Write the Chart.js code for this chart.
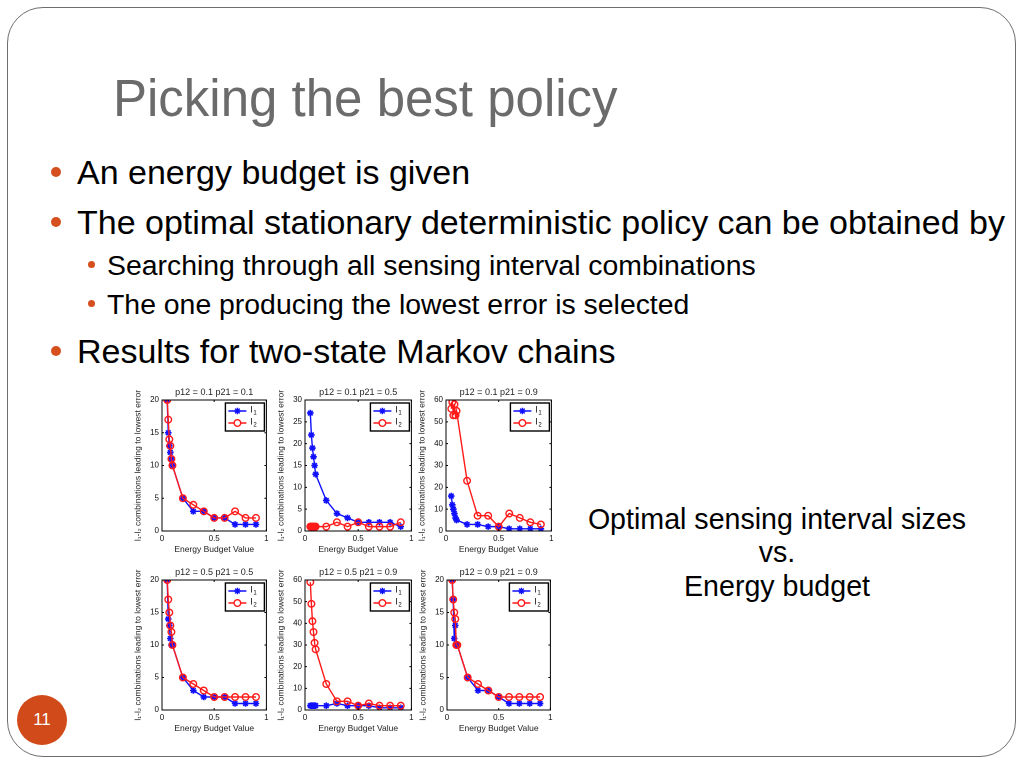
<!DOCTYPE html>
<html>
<head>
<meta charset="utf-8">
<script src="https://cdn.jsdelivr.net/npm/chart.js@4"></script>
<style>
html,body{margin:0;padding:0;background:#fff;}
body{width:1024px;height:768px;position:relative;overflow:hidden;font-family:"Liberation Sans",Arial,sans-serif;}
.frame{position:absolute;left:7px;top:7px;width:1009px;height:750px;border:1px solid #6e6e6e;border-radius:36px;box-sizing:border-box;}
.t{position:absolute;white-space:nowrap;line-height:1;}
.title{left:113px;top:73px;font-size:51px;color:#6b6b6b;}
.b1{font-size:34px;color:#000;left:77px;}
.b2{font-size:28.4px;color:#000;left:107px;}
.dot{position:absolute;border-radius:50%;background:#d6501f;}
.num{position:absolute;left:17px;top:695px;width:50px;height:50px;border-radius:50%;background:#d04a1a;color:#fff;font-size:17px;text-align:center;line-height:50px;}
.rt{position:absolute;left:560px;width:434px;text-align:center;font-size:28.6px;color:#000;line-height:1;}
canvas{position:absolute;}
</style>
</head>
<body>
<div class="frame"></div>
<div class="t title">Picking the best policy</div>
<div class="dot" style="left:51px;top:167px;width:10px;height:10px;"></div>
<div class="t b1" style="top:155px;">An energy budget is given</div>
<div class="dot" style="left:51px;top:217px;width:10px;height:10px;"></div>
<div class="t b1" style="top:205px;">The optimal stationary deterministic policy can be obtained by</div>
<div class="dot" style="left:88px;top:261px;width:7px;height:7px;"></div>
<div class="t b2" style="top:251px;">Searching through all sensing interval combinations</div>
<div class="dot" style="left:88px;top:300px;width:7px;height:7px;"></div>
<div class="t b2" style="top:290px;">The one producing the lowest error is selected</div>
<div class="dot" style="left:51px;top:346px;width:10px;height:10px;"></div>
<div class="t b1" style="top:334px;">Results for two-state Markov chains</div>
<div class="rt" style="top:505px;">Optimal sensing interval sizes</div>
<div class="rt" style="top:538px;">vs.</div>
<div class="rt" style="top:572px;">Energy budget</div>
<div class="num">11</div>

<canvas id="c1"></canvas>
<canvas id="c2"></canvas>
<canvas id="c3"></canvas>
<canvas id="c4"></canvas>
<canvas id="c5"></canvas>
<canvas id="c6"></canvas>

<script>
const energyBudget = [0.05,0.06,0.07,0.08,0.09,0.1,0.2,0.3,0.4,0.5,0.6,0.7,0.8,0.9];
const xTicks = [0, 0.5, 1];

const titleA = "p12 = 0.1 p21 = 0.1";
const l1A = [20,15,13,12,11,10,5,3,3,2,2,1,1,1];
const l2A = [20,17,14,13,11,10,5,4,3,2,2,3,2,2];
const yTicksA = [0,5,10,15,20];

const titleB = "p12 = 0.1 p21 = 0.5";
const l1B = [27,22,19,17,15,13,7,4,3,2,2,2,2,1];
const l2B = [1,1,1,1,1,1,1,2,1,2,1,1,1,2];
const yTicksB = [0,5,10,15,20,25,30];

const titleC = "p12 = 0.1 p21 = 0.9";
const l1C = [16,12,10,8,6,5,3,3,2,2,1,1,1,1];
const l2C = [56,59,53,58,53,55,23,7,7,2,8,6,4,3];
const yTicksC = [0,10,20,30,40,50,60];

const titleD = "p12 = 0.5 p21 = 0.5";
const l1D = [20,14,13,11,10,10,5,3,2,2,2,1,1,1];
const l2D = [20,17,15,13,12,10,5,4,3,2,2,2,2,2];
const yTicksD = [0,5,10,15,20];

const titleE = "p12 = 0.5 p21 = 0.9";
const l1E = [2,2,2,2,2,2,2,3,2,2,2,1,1,1];
const l2E = [59,49,41,36,31,28,12,4,4,2,3,2,2,2];
const yTicksE = [0,10,20,30,40,50,60];

const titleF = "p12 = 0.9 p21 = 0.9";
const l1F = [20,17,11,13,10,10,5,3,3,2,1,1,1,1];
const l2F = [20,17,15,14,10,10,5,4,3,2,2,2,2,2];
const yTicksF = [0,5,10,15,20];

const yTitle = "l\u2081-l\u2082 combinations leading to lowest error";
const xTitle = "Energy Budget Value";

const BLUE = "#1010ff", RED = "#ff1a1a";
const YW = 30, TOPPAD = 20, XH = 24, RP = 4;
const FONT = '"Liberation Sans", Arial, sans-serif';

const matlabPlugin = {
  id: 'matlab',
  afterDraw(chart, args, opts) {
    const ctx = chart.ctx, a = chart.chartArea;
    ctx.save();
    ctx.strokeStyle = '#000'; ctx.lineWidth = 1;
    ctx.strokeRect(a.left, a.top, a.right - a.left, a.bottom - a.top);
    const xs = chart.scales.x, ys = chart.scales.y;
    ctx.beginPath();
    xs.ticks.forEach(t => {
      const px = xs.getPixelForValue(t.value);
      ctx.moveTo(px, a.bottom); ctx.lineTo(px, a.bottom - 2);
      ctx.moveTo(px, a.top); ctx.lineTo(px, a.top + 2);
    });
    ys.ticks.forEach(t => {
      const py = ys.getPixelForValue(t.value);
      ctx.moveTo(a.left, py); ctx.lineTo(a.left + 2, py);
      ctx.moveTo(a.right, py); ctx.lineTo(a.right - 2, py);
    });
    ctx.stroke();
    ctx.fillStyle = '#222';
    ctx.font = '9px ' + FONT;
    ctx.textAlign = 'center'; ctx.textBaseline = 'bottom';
    ctx.fillText(opts.title, (a.left + a.right) / 2, a.top - 3);
    const w = 39, h = 28;
    const lx = a.right - w - 2, ly = a.top + 3;
    ctx.fillStyle = '#fff';
    ctx.fillRect(lx, ly, w, h);
    ctx.lineWidth = 1.4; ctx.strokeStyle = '#000';
    ctx.strokeRect(lx, ly, w, h);
    const rows = [{c: BLUE, f: BLUE, s: 'star', sub: '1', y: ly + 8}, {c: RED, f: '#fff', s: 'circle', sub: '2', y: ly + 20}];
    rows.forEach(r => {
      ctx.strokeStyle = r.c; ctx.lineWidth = 1.4;
      ctx.beginPath(); ctx.moveTo(lx + 3, r.y); ctx.lineTo(lx + 21, r.y); ctx.stroke();
      ctx.fillStyle = r.f;
      Chart.helpers.drawPoint(ctx, {pointStyle: r.s, radius: 3.3, borderWidth: 1.4}, lx + 12, r.y);
      ctx.fillStyle = '#000';
      ctx.textAlign = 'left'; ctx.textBaseline = 'middle';
      ctx.font = '9px ' + FONT;
      ctx.fillText('l', lx + 25, r.y - 1);
      ctx.font = '6px ' + FONT;
      ctx.fillText(r.sub, lx + 28, r.y + 2);
    });
    ctx.restore();
  }
};

function makeChart(id, left, axTop, axW, axH, title, l1, l2, yTicks) {
  const cv = document.getElementById(id);
  const W = YW + axW + RP, H = TOPPAD + axH + XH;
  cv.style.left = (left - YW) + 'px';
  cv.style.top = (axTop - TOPPAD) + 'px';
  cv.style.width = W + 'px'; cv.style.height = H + 'px';
  cv.width = W; cv.height = H;
  const ymax = yTicks[yTicks.length - 1];
  new Chart(cv, {
    type: 'line',
    data: {
      datasets: [
        {label: 'l1', order: 1, data: energyBudget.map((x, i) => ({x, y: l1[i]})), borderColor: BLUE, backgroundColor: BLUE,
         pointStyle: 'star', pointRadius: 3.3, pointBorderWidth: 1.6, borderWidth: 1.4, pointBorderColor: BLUE, pointBackgroundColor: BLUE},
        {label: 'l2', order: 0, data: energyBudget.map((x, i) => ({x, y: l2[i]})), borderColor: RED, backgroundColor: 'rgba(0,0,0,0)',
         pointStyle: 'circle', pointRadius: 3.3, pointBorderWidth: 1.4, borderWidth: 1.4, pointBorderColor: RED, pointBackgroundColor: 'rgba(0,0,0,0)'}
      ]
    },
    options: {
      responsive: false, animation: false, devicePixelRatio: 2,
      layout: {padding: {top: TOPPAD, right: RP, left: 0, bottom: 0}},
      plugins: {legend: {display: false}, tooltip: {enabled: false}, matlab: {title}},
      elements: {line: {tension: 0}},
      scales: {
        x: {type: 'linear', min: 0, max: 1,
            afterBuildTicks: s => { s.ticks = xTicks.map(v => ({value: v})); },
            afterFit: s => { s.height = XH; },
            grid: {display: false, drawTicks: false}, border: {display: true, color: '#000'},
            ticks: {font: {size: 8, family: FONT}, color: '#111', padding: 3, maxRotation: 0,
                    callback: v => String(v)},
            title: {display: true, text: xTitle, font: {size: 8.5, family: FONT}, color: '#222', padding: {top: 0, bottom: 0}}},
        y: {type: 'linear', min: 0, max: ymax,
            afterBuildTicks: s => { s.ticks = yTicks.map(v => ({value: v})); },
            afterFit: s => { s.width = YW; },
            grid: {display: false, drawTicks: false}, border: {display: true, color: '#000'},
            ticks: {font: {size: 8, family: FONT}, color: '#111', padding: 3},
            title: {display: true, text: yTitle, font: {size: 8.5, family: FONT}, color: '#222', padding: {top: 1, bottom: 0}}}
      }
    },
    plugins: [matlabPlugin]
  });
}

makeChart('c1', 162, 400, 106, 131, titleA, l1A, l2A, yTicksA);
makeChart('c2', 305, 400, 108, 131, titleB, l1B, l2B, yTicksB);
makeChart('c3', 446, 400, 107, 131, titleC, l1C, l2C, yTicksC);
makeChart('c4', 162, 580, 106, 130, titleD, l1D, l2D, yTicksD);
makeChart('c5', 305, 580, 108, 130, titleE, l1E, l2E, yTicksE);
makeChart('c6', 447, 580, 105, 130, titleF, l1F, l2F, yTicksF);
</script>
</body>
</html>
